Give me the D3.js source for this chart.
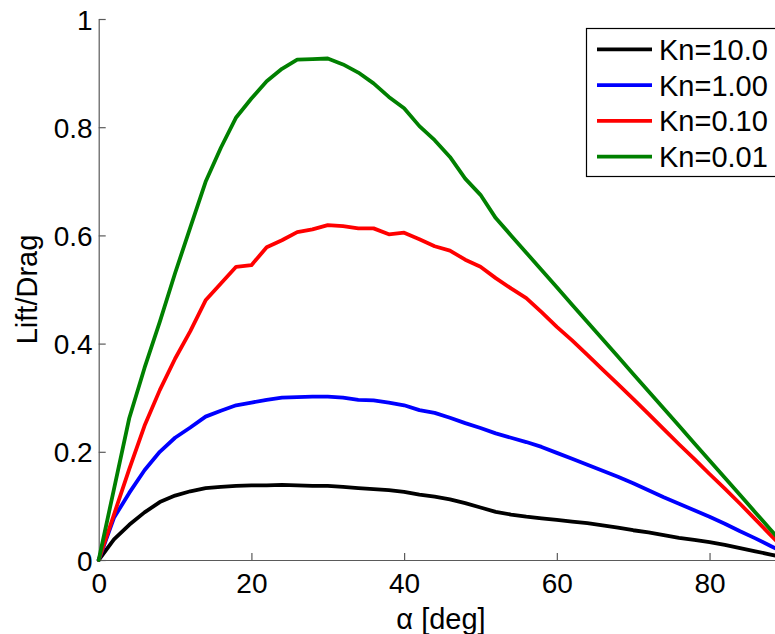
<!DOCTYPE html>
<html>
<head>
<meta charset="utf-8">
<script src="https://cdn.jsdelivr.net/npm/d3@7"></script>
<style>
  html, body { margin: 0; padding: 0; background: #fff; }
  svg { display: block; overflow: hidden; }
  text { font-family: "Liberation Sans", Arial, Helvetica, sans-serif; fill: #000; }
</style>
</head>
<body>
<svg id="chart" width="775" height="634"></svg>
<script>
// Angle of attack samples [deg]
const alpha = [0, 2, 4, 6, 8, 10, 12, 14, 16, 18, 20, 22, 24, 26, 28, 30, 32, 34, 36, 38, 40,
               42, 44, 46, 48, 50, 52, 54, 56, 58, 60, 62, 64, 66, 68, 70, 72, 74, 76, 78, 80,
               82, 84, 86, 88, 90];

// Lift/Drag ratio for each Knudsen number
const ldKn10 = [0, 0.038, 0.065, 0.088, 0.107, 0.119, 0.127, 0.133, 0.135, 0.137, 0.138, 0.138, 0.139, 0.138, 0.137, 0.137,
                0.135, 0.133, 0.131, 0.129, 0.126, 0.121, 0.117, 0.112, 0.105, 0.097, 0.089, 0.084, 0.080, 0.077, 0.074,
                0.071, 0.068, 0.064, 0.060, 0.055, 0.051, 0.046, 0.041, 0.037, 0.033, 0.028, 0.022, 0.016, 0.010, 0.004];
const ldKn1 = [0, 0.078, 0.124, 0.166, 0.200, 0.226, 0.245, 0.265, 0.276, 0.286, 0.291, 0.296, 0.300, 0.301, 0.302, 0.302,
               0.300, 0.296, 0.295, 0.291, 0.286, 0.277, 0.272, 0.263, 0.253, 0.244, 0.234, 0.226, 0.218, 0.209, 0.198,
               0.187, 0.176, 0.165, 0.154, 0.142, 0.129, 0.116, 0.104, 0.092, 0.080, 0.067, 0.053, 0.040, 0.026, 0.012];
const ldKn01 = [0, 0.084, 0.168, 0.248, 0.314, 0.372, 0.423, 0.480, 0.511, 0.542, 0.545, 0.578, 0.591, 0.606, 0.611, 0.619,
                0.617, 0.613, 0.613, 0.602, 0.605, 0.593, 0.580, 0.572, 0.555, 0.542, 0.521, 0.502, 0.484, 0.458, 0.431,
                0.406, 0.379, 0.352, 0.325, 0.298, 0.270, 0.242, 0.214, 0.187, 0.159, 0.132, 0.104, 0.075, 0.046, 0.018];
const ldKn001 = [0, 0.131, 0.262, 0.355, 0.440, 0.530, 0.615, 0.699, 0.762, 0.818, 0.853, 0.885, 0.908, 0.925, 0.926, 0.927,
                 0.916, 0.901, 0.881, 0.856, 0.835, 0.802, 0.776, 0.745, 0.705, 0.675, 0.632, 0.600, 0.568, 0.536, 0.504,
                 0.472, 0.440, 0.408, 0.376, 0.344, 0.312, 0.280, 0.248, 0.216, 0.184, 0.152, 0.120, 0.088, 0.056, 0.024];

const seriesNames = ["Kn=10.0", "Kn=1.00", "Kn=0.10", "Kn=0.01"];
const seriesColors = ["#000000", "#0000ff", "#ff0000", "#008000"];
const seriesValues = [ldKn10, ldKn1, ldKn01, ldKn001];

const xTicks = [0, 20, 40, 60, 80];
const yTicks = [0, 0.2, 0.4, 0.6, 0.8, 1];

const svg = d3.select("#chart");

// Plot area (the right end of the axis extends beyond the page edge)
const x = d3.scaleLinear().domain([0, 90]).range([98.7, 785.9]);
const y = d3.scaleLinear().domain([0, 1]).range([560, 19]);

const axisColor = "#5a5a5a";

// Y axis, ticks pointing inward
const yAxis = svg.append("g")
  .attr("transform", `translate(${x(0)},0)`)
  .call(d3.axisLeft(y).tickValues(yTicks).tickSizeInner(-7).tickSizeOuter(0).tickPadding(6)
        .tickFormat(d => (d === 0 || d === 1) ? String(d) : d3.format(".1f")(d)));

// X axis, ticks pointing inward
const xAxis = svg.append("g")
  .attr("transform", `translate(0,${y(0)})`)
  .call(d3.axisBottom(x).tickValues(xTicks).tickSizeInner(-7).tickSizeOuter(0).tickPadding(0)
        .tickFormat(d3.format("d")));

[yAxis, xAxis].forEach(g => {
  g.select(".domain").attr("stroke", axisColor).attr("stroke-width", 1.2);
  g.selectAll(".tick line").attr("stroke", axisColor).attr("stroke-width", 1.2);
  g.selectAll("text").attr("font-size", 28).attr("fill", "#000")
    .attr("font-family", "'Liberation Sans', Arial, sans-serif");
});
yAxis.selectAll(".tick text").attr("dy", "0.36em");
xAxis.selectAll(".tick text").attr("dy", null).attr("y", 33);

// Axis labels
svg.append("text")
  .attr("transform", `translate(37,${(y(0) + y(1)) / 2}) rotate(-90)`)
  .attr("text-anchor", "middle")
  .attr("font-size", 29)
  .text("Lift/Drag");

svg.append("text")
  .attr("x", 441)
  .attr("y", 629)
  .attr("text-anchor", "middle")
  .attr("font-size", 29)
  .text("α [deg]");

// Curves
const line = d3.line()
  .x((d, i) => x(alpha[i]))
  .y(d => y(d));

svg.append("g").selectAll("path")
  .data(seriesValues)
  .join("path")
  .attr("d", line)
  .attr("fill", "none")
  .attr("stroke", (d, i) => seriesColors[i])
  .attr("stroke-width", 3.8)
  .attr("stroke-linejoin", "round")
  .attr("stroke-linecap", "round");

// Legend
const legend = svg.append("g");
legend.append("rect")
  .attr("x", 586.5).attr("y", 28.5)
  .attr("width", 220).attr("height", 148)
  .attr("fill", "#fff").attr("stroke", "#000").attr("stroke-width", 1.2);

const rowY = d3.scalePoint().domain(seriesNames).range([49.3, 156.7]);
const rows = legend.selectAll("g.row")
  .data(seriesNames)
  .join("g")
  .attr("class", "row")
  .attr("transform", d => `translate(0,${rowY(d)})`);
rows.append("line")
  .attr("x1", 597).attr("x2", 652).attr("y1", 0).attr("y2", 0)
  .attr("stroke", (d, i) => seriesColors[i])
  .attr("stroke-width", 3.8);
rows.append("text")
  .attr("x", 659)
  .attr("y", 10.5)
  .attr("font-size", 29)
  .text(d => d);
</script>
</body>
</html>
